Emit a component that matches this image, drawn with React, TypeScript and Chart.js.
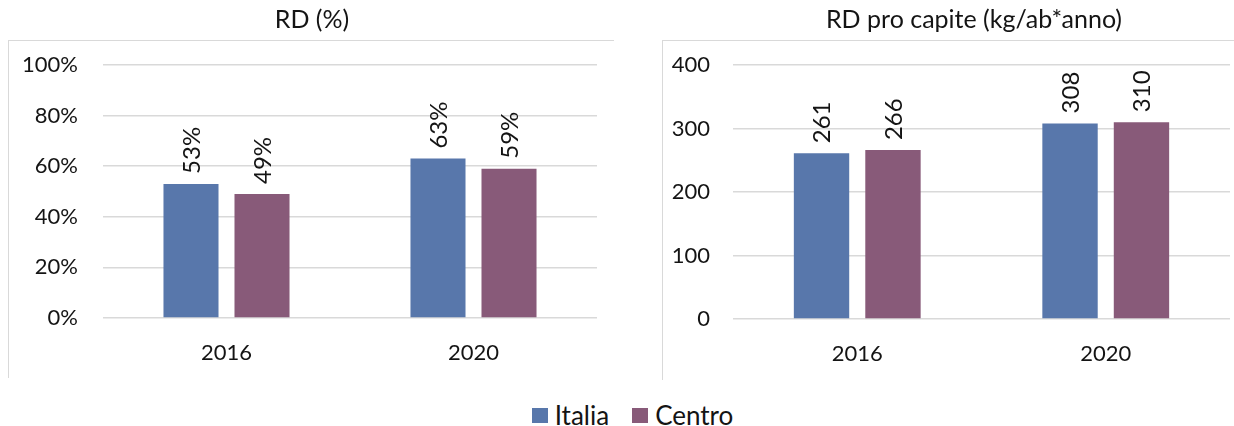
import React, { useEffect, useRef } from 'react';
import { Chart, registerables } from 'chart.js';

Chart.register(...registerables);

const categories = ['2016', '2020'];
const seriesNames = ['Italia', 'Centro'];
const seriesColors = ['#5877ab', '#885a79'];
const rdPercentItalia = [53, 63];
const rdPercentCentro = [49, 59];
const rdProCapiteItalia = [261, 308];
const rdProCapiteCentro = [266, 310];
const leftTitle = 'RD (%)';
const rightTitle = 'RD pro capite (kg/ab*anno)';

const FONT = 'Lato, "Open Sans", sans-serif';
const TEXT = '#141414';
const GRID = '#d9d9d9';

const rotatedLabels = {
  id: 'rotatedLabels',
  afterDatasetsDraw(chart: any, _args: any, opts: any) {
    const ctx = chart.ctx;
    ctx.save();
    ctx.font = `${opts.size}px ${FONT}`;
    ctx.fillStyle = TEXT;
    ctx.textAlign = 'left';
    ctx.textBaseline = 'middle';
    chart.data.datasets.forEach((ds: any, i: number) => {
      const meta = chart.getDatasetMeta(i);
      meta.data.forEach((bar: any, j: number) => {
        const v = ds.data[j];
        ctx.save();
        ctx.translate(bar.x + 1, bar.y - opts.offset);
        ctx.rotate(-Math.PI / 2);
        ctx.fillText(String(v) + (opts.suffix || ''), 0, 0);
        ctx.restore();
      });
    });
    ctx.restore();
  },
};

const panelTitle = {
  id: 'panelTitle',
  afterDraw(chart: any, _args: any, opts: any) {
    const ctx = chart.ctx;
    ctx.save();
    ctx.font = `${opts.size}px ${FONT}`;
    ctx.fillStyle = TEXT;
    ctx.textAlign = 'center';
    ctx.textBaseline = 'middle';
    ctx.fillText(opts.text, opts.x, opts.y);
    ctx.restore();
  },
};

type PanelProps = {
  title: string;
  titleX: number;
  italia: number[];
  centro: number[];
  max: number;
  step: number;
  suffix: string;
  width: number;
  height: number;
  axisWidth: number;
  tickPad: number;
  padRight: number;
  xHeight: number;
};

function ChartPanel(p: PanelProps) {
  const ref = useRef<HTMLCanvasElement | null>(null);
  useEffect(() => {
    if (!ref.current) return;
    const chart = new Chart(ref.current, {
      type: 'bar',
      data: {
        labels: categories,
        datasets: [
          {
            label: seriesNames[0],
            data: p.italia,
            backgroundColor: seriesColors[0],
            categoryPercentage: 0.575,
            barPercentage: 0.775,
          },
          {
            label: seriesNames[1],
            data: p.centro,
            backgroundColor: seriesColors[1],
            categoryPercentage: 0.575,
            barPercentage: 0.775,
          },
        ],
      },
      options: {
        responsive: false,
        animation: false,
        layout: { padding: { left: 0, right: p.padRight, top: 65, bottom: 0 } },
        plugins: {
          legend: { display: false },
          tooltip: { enabled: false },
          title: { display: false },
          panelTitle: { text: p.title, x: p.titleX, y: 20, size: 25 },
          rotatedLabels: { size: 24, offset: 10, suffix: p.suffix },
        } as any,
        scales: {
          x: {
            grid: { display: false, drawTicks: false },
            border: { display: false },
            ticks: {
              color: TEXT,
              font: { family: FONT, size: 22 },
              padding: 22,
            },
            afterFit: (s: any) => {
              s.height = p.xHeight;
            },
          },
          y: {
            min: 0,
            max: p.max,
            grid: { color: GRID, lineWidth: 1.5, drawTicks: false },
            border: { display: false },
            ticks: {
              stepSize: p.step,
              color: TEXT,
              font: { family: FONT, size: 22 },
              padding: p.tickPad,
              callback: (v: any) => `${v}${p.suffix}`,
            },
            afterFit: (s: any) => {
              s.width = p.axisWidth;
            },
          },
        },
      },
      plugins: [rotatedLabels, panelTitle],
    });
    return () => chart.destroy();
  }, []);
  return <canvas ref={ref} width={p.width} height={p.height} style={{ display: 'block' }} />;
}

export default function App() {
  return (
    <div
      style={{
        position: 'fixed',
        left: 0,
        top: 0,
        width: 1234,
        height: 426,
        overflow: 'hidden',
        background: '#fff',
        fontFamily: FONT,
      }}
    >
      <div
        style={{
          position: 'absolute',
          left: 8,
          top: 40,
          width: 606,
          height: 338,
          borderLeft: `1px solid ${GRID}`,
          borderTop: `1px solid ${GRID}`,
          boxSizing: 'border-box',
        }}
      />
      <div
        style={{
          position: 'absolute',
          left: 662,
          top: 40,
          width: 700,
          height: 340,
          borderLeft: `1px solid ${GRID}`,
          borderTop: `1px solid ${GRID}`,
          boxSizing: 'border-box',
        }}
      />
      <div style={{ position: 'absolute', left: 8, top: 0 }}>
        <ChartPanel
          title={leftTitle}
          titleX={304}
          italia={rdPercentItalia}
          centro={rdPercentCentro}
          max={100}
          step={20}
          suffix="%"
          width={606}
          height={380}
          axisWidth={95}
          tickPad={25}
          padRight={17}
          xHeight={62}
        />
      </div>
      <div style={{ position: 'absolute', left: 662, top: 0 }}>
        <ChartPanel
          title={rightTitle}
          titleX={312}
          italia={rdProCapiteItalia}
          centro={rdProCapiteCentro}
          max={400}
          step={100}
          suffix=""
          width={624}
          height={380}
          axisWidth={71}
          tickPad={23}
          padRight={56}
          xHeight={61}
        />
      </div>
      <div
        style={{
          position: 'absolute',
          left: 0,
          top: 400,
          width: 1234,
          display: 'flex',
          justifyContent: 'center',
          alignItems: 'center',
          fontSize: 26,
          lineHeight: '31px',
          color: TEXT,
          paddingLeft: 31,
          boxSizing: 'border-box',
        }}
      >
        {seriesNames.map((n, i) => (
          <div key={n} style={{ display: 'flex', alignItems: 'center', marginRight: i === 0 ? 23 : 0 }}>
            <span
              style={{
                display: 'inline-block',
                width: 16,
                height: 15,
                background: seriesColors[i],
                marginRight: 7,
              }}
            />
            <span>{n}</span>
          </div>
        ))}
      </div>
    </div>
  );
}
